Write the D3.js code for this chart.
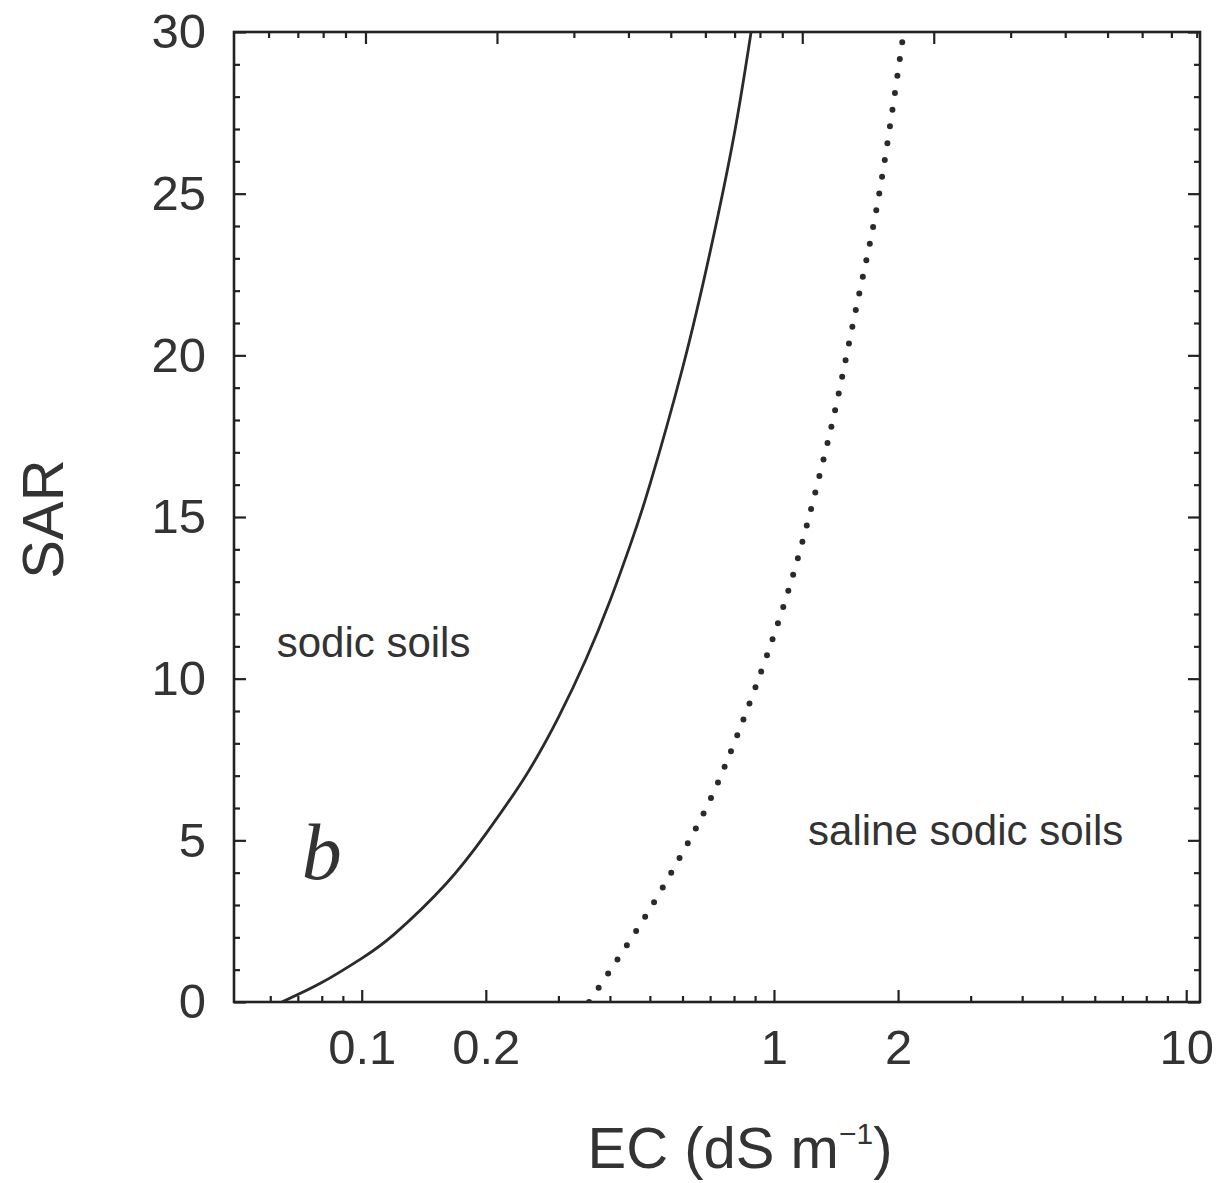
<!DOCTYPE html>
<html>
<head>
<meta charset="utf-8">
<script src="https://cdn.jsdelivr.net/npm/d3@7"></script>
<style>
  html, body { margin: 0; padding: 0; background: #fff; }
  svg { display: block; }
  text { font-family: "Liberation Sans", Arial, Helvetica, sans-serif; fill: #333; }
</style>
</head>
<body>
<svg id="chart" width="1219" height="1183"></svg>
<script>
// ---- Data ----
const solidEC  = [0.064, 0.08, 0.10, 0.12, 0.16, 0.20, 0.25, 0.30, 0.35, 0.40, 0.45, 0.50, 0.60, 0.70, 0.80, 0.88];
const solidSAR = [0,     0.6,  1.35, 2.1,  3.65, 5.2,  7.0,  8.8,  10.6, 12.4, 14.2, 16.0, 19.6, 23.2, 26.8, 30];

const dottedEC  = [0.356, 0.485, 0.605, 0.732, 0.93, 1.118, 1.285, 1.429, 1.597, 1.80, 2.064];
const dottedSAR = [0,     2.6,   4.7,   6.8,   10.2, 13.3,  16.2,  18.7,  21.7,  25.0, 30];

const ecMajorTicks  = [0.1, 0.2, 1, 2, 10];
const ecMinorTicks  = [0.06, 0.07, 0.08, 0.09, 0.3, 0.4, 0.5, 0.6, 0.7, 0.8, 0.9, 3, 4, 5, 6, 7, 8, 9];
const ecTopMajor    = [0.1, 0.2, 1, 2];
const ecTopMinor    = [0.06, 0.07, 0.08, 0.09, 0.3, 0.4, 0.5, 0.6, 0.7, 0.8, 0.9, 3, 4, 5, 6, 7, 8];
const sarMajorTicks = [0, 5, 10, 15, 20, 25, 30];
const sarMinorTicks = d3.range(0, 31).filter(v => v % 5 !== 0);

const ecDomain    = [0.049, 10.8];
const ecTopDomain = [0.050, 8.14];
const sarDomain   = [0, 30];

const labels = [
  { text: "sodic soils",        ec: 0.0622, sar: 11.0, anchor: "start" },
  { text: "saline sodic soils", ec: 1.21,   sar: 5.2,  anchor: "start" }
];
const panelLetter = { text: "b", ec: 0.080, sar: 3.8 };

// ---- Layout ----
const margin = { left: 234, top: 32, right: 19, bottom: 181 };
const W = 1219, H = 1183;
const pw = W - margin.left - margin.right;
const ph = H - margin.top - margin.bottom;

const svg = d3.select("#chart");
const g = svg.append("g").attr("transform", `translate(${margin.left},${margin.top})`);

const x = d3.scaleLog().domain(ecDomain).range([0, pw]);
const xTop = d3.scaleLog().domain(ecTopDomain).range([0, pw]);
const y = d3.scaleLinear().domain(sarDomain).range([ph, 0]);

const majorLen = 12, minorLen = 6;
const axisColor = "#222";

function styleAxis(sel) {
  sel.select(".domain").remove();
  sel.selectAll(".tick line").attr("stroke", axisColor).attr("stroke-width", 2.2);
}

// Bottom axis
const bottomMajor = g.append("g").attr("transform", `translate(0,${ph})`)
  .call(d3.axisBottom(x).tickValues(ecMajorTicks).tickSize(-majorLen).tickPadding(24)
        .tickFormat(d => String(d)));
styleAxis(bottomMajor);
bottomMajor.selectAll(".tick text").attr("font-size", 49).attr("fill", "#333")
  .attr("dy", "0.71em").attr("y", 27);

const bottomMinor = g.append("g").attr("transform", `translate(0,${ph})`)
  .call(d3.axisBottom(x).tickValues(ecMinorTicks).tickSize(-minorLen).tickFormat(""));
styleAxis(bottomMinor);

// Top axis
const topMajor = g.append("g")
  .call(d3.axisTop(xTop).tickValues(ecTopMajor).tickSize(-majorLen).tickFormat(""));
styleAxis(topMajor);
const topMinor = g.append("g")
  .call(d3.axisTop(xTop).tickValues(ecTopMinor).tickSize(-minorLen).tickFormat(""));
styleAxis(topMinor);

// Left axis
const leftMajor = g.append("g")
  .call(d3.axisLeft(y).tickValues(sarMajorTicks).tickSize(-majorLen).tickPadding(28)
        .tickFormat(d3.format("d")));
styleAxis(leftMajor);
leftMajor.selectAll(".tick text").attr("font-size", 49).attr("fill", "#333");

const leftMinor = g.append("g")
  .call(d3.axisLeft(y).tickValues(sarMinorTicks).tickSize(-minorLen).tickFormat(""));
styleAxis(leftMinor);

// Right axis
const rightMajor = g.append("g").attr("transform", `translate(${pw},0)`)
  .call(d3.axisRight(y).tickValues(sarMajorTicks).tickSize(-majorLen).tickFormat(""));
styleAxis(rightMajor);
const rightMinor = g.append("g").attr("transform", `translate(${pw},0)`)
  .call(d3.axisRight(y).tickValues(sarMinorTicks).tickSize(-minorLen).tickFormat(""));
styleAxis(rightMinor);

// Frame
g.append("rect").attr("x", 0).attr("y", 0).attr("width", pw).attr("height", ph)
  .attr("fill", "none").attr("stroke", axisColor).attr("stroke-width", 2.6);

// Clip for curves
svg.append("defs").append("clipPath").attr("id", "plotclip")
  .append("rect").attr("x", 0).attr("y", 0).attr("width", pw).attr("height", ph);

const line = d3.line().x(d => x(d[0])).y(d => y(d[1])).curve(d3.curveNatural);

const curves = g.append("g").attr("clip-path", "url(#plotclip)");
curves.append("path")
  .datum(solidEC.map((e, i) => [e, solidSAR[i]]))
  .attr("d", line).attr("fill", "none").attr("stroke", "#2a2a2a").attr("stroke-width", 2.8);

curves.append("path")
  .datum(dottedEC.map((e, i) => [e, dottedSAR[i]]))
  .attr("d", line).attr("fill", "none").attr("stroke", "#2a2a2a").attr("stroke-width", 6)
  .attr("stroke-linecap", "round").attr("stroke-dasharray", "0,17");

// Region labels
g.selectAll("text.region").data(labels).enter().append("text")
  .attr("class", "region")
  .attr("x", d => x(d.ec)).attr("y", d => y(d.sar))
  .attr("text-anchor", d => d.anchor)
  .attr("dominant-baseline", "middle")
  .attr("font-size", 42)
  .attr("fill", "#3a3a3a")
  .text(d => d.text);

// Panel letter
g.append("text")
  .attr("x", x(panelLetter.ec)).attr("y", y(panelLetter.sar))
  .attr("text-anchor", "middle")
  .style("font-family", "'Liberation Serif', 'DejaVu Serif', serif")
  .style("font-style", "italic")
  .attr("font-size", 80)
  .attr("fill", "#2a2a2a")
  .text(panelLetter.text);

// Axis titles
const xt = svg.append("text")
  .attr("x", 740)
  .attr("y", 1168)
  .attr("text-anchor", "middle")
  .attr("font-size", 58)
  .attr("fill", "#333");
xt.append("tspan").text("EC (dS m");
xt.append("tspan").attr("font-size", 30).attr("dy", -24).text("\u22121");
xt.append("tspan").attr("dy", 24).text(")");

svg.append("text")
  .attr("transform", `translate(63,${margin.top + ph / 2 + 2}) rotate(-90)`)
  .attr("text-anchor", "middle")
  .attr("font-size", 58)
  .attr("fill", "#333")
  .text("SAR");
</script>
</body>
</html>
